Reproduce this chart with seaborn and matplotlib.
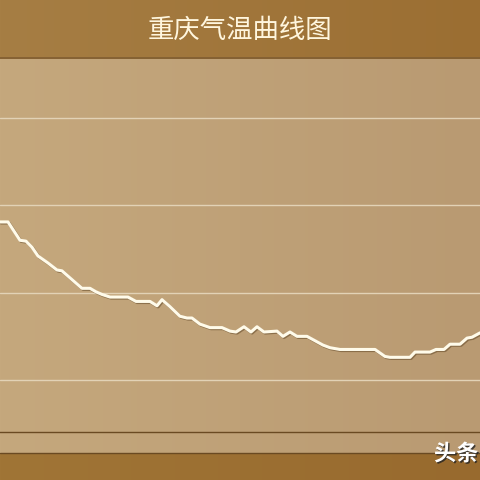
import numpy as np
import pandas as pd
import matplotlib
matplotlib.use("Agg")
import matplotlib.pyplot as plt
import matplotlib.patheffects as pe
from matplotlib.lines import Line2D
import seaborn as sns

# ---- data ----
title = "重庆气温曲线图"
watermark = "头条"
t = [0, 8, 20, 26, 32, 38, 48, 57, 62, 72, 82, 90, 96, 102, 110, 128, 136, 150,
     157, 162, 170, 180, 187, 192, 200, 210, 222, 230, 236, 244, 251, 257, 264,
     277, 283, 290, 297, 307, 315, 323, 330, 340, 375, 385, 390, 410, 415, 430,
     436, 444, 450, 460, 467, 472, 480]
temp = [28.1, 28.1, 26.0, 25.9, 25.2, 24.2, 23.4, 22.6, 22.5, 21.5, 20.5, 20.5,
        20.1, 19.8, 19.5, 19.5, 19.0, 19.0, 18.5, 19.2, 18.4, 17.3, 17.1, 17.1,
        16.4, 16.0, 16.0, 15.6, 15.5, 16.1, 15.5, 16.1, 15.5, 15.6, 15.0, 15.5,
        15.0, 15.0, 14.5, 14.0, 13.7, 13.5, 13.5, 12.7, 12.6, 12.6, 13.2, 13.2,
        13.5, 13.5, 14.1, 14.1, 14.8, 14.9, 15.4]
grid_values = [10, 20, 30, 40]

df = pd.DataFrame({"t": t, "temp": temp})

sns.set_theme(style="white")
plt.rcParams['font.family'] = ['Noto Sans CJK SC', 'DejaVu Sans']

W, H = 480, 480
fig = plt.figure(figsize=(4.8, 4.8), dpi=100)

# ---- background gradient ----
bg = np.zeros((H, W, 3))
xs = np.linspace(0, 1, W)
def band(c1, c2):
    c1 = np.array(c1) / 255.0
    c2 = np.array(c2) / 255.0
    return c1[None, :] * (1 - xs[:, None]) + c2[None, :] * xs[:, None]
top = band((166, 126, 68), (155, 110, 50))
panel = band((197, 168, 125), (185, 154, 114))
bottom = band((160, 117, 54), (152, 106, 46))
bg[:57] = top[None]
bg[57:453] = panel[None]
bg[453:] = bottom[None]
axbg = fig.add_axes([0, 0, 1, 1], zorder=-5)
axbg.imshow(bg, aspect="auto", extent=(0, 1, 0, 1))
axbg.axis("off")

# ---- main axes ----
ax = fig.add_axes([0, 48 / 480, 1, 374 / 480])
ax.set_facecolor("none")
sns.lineplot(data=df, x="t", y="temp", ax=ax, color="#fffbea", linewidth=2.2,
             path_effects=[pe.SimpleLineShadow(offset=(0.8, -0.8), shadow_color="#5a4020", alpha=0.5),
                           pe.Normal()])
ax.set_xlim(0, 480)
ax.set_ylim(4.05, 46.87)
ax.set_yticks(grid_values)
ax.set_xticks([])
ax.tick_params(left=False, labelleft=False)
ax.yaxis.grid(True, color="#e2d2b6", linewidth=1.0)
ax.set_xlabel("")
ax.set_ylabel("")
for s in ["left", "right"]:
    ax.spines[s].set_visible(False)
ax.spines["top"].set_color("#7a5526")
ax.spines["top"].set_linewidth(1.2)
ax.spines["bottom"].set_color("#6a4a22")
ax.spines["bottom"].set_linewidth(1.0)

fig.add_artist(Line2D([0, 1], [27 / 480, 27 / 480], color="#6a4a22", linewidth=1.0))

fig.text(0.5, 1 - 30 / 480, title, ha="center", va="center", color="#fff6de",
         fontsize=19)
fig.text(434 / 480, 1 - 454 / 480, watermark, ha="left", va="center", color="white",
         fontsize=16, fontweight="bold",
         path_effects=[pe.withSimplePatchShadow(offset=(1, -1), shadow_rgbFace="#222222", alpha=0.8)])

fig.savefig("out.png", dpi=100)
